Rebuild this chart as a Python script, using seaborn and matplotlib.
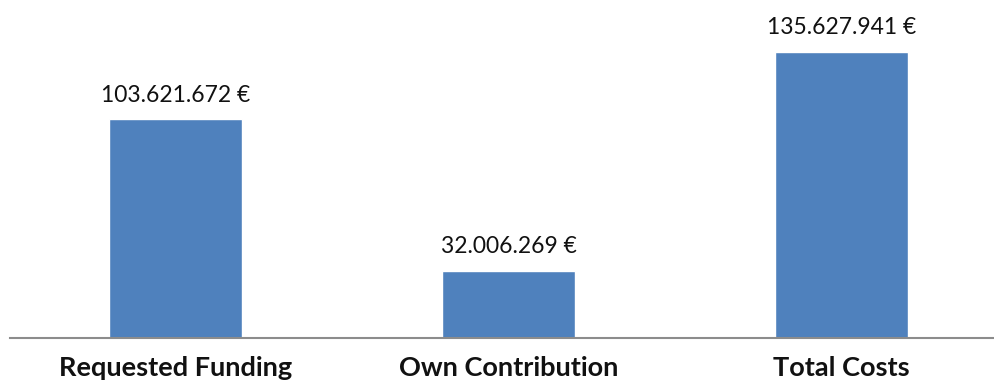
import matplotlib
matplotlib.use("Agg")
import matplotlib.pyplot as plt
import seaborn as sns
import pandas as pd

categories = ["Requested Funding", "Own Contribution", "Total Costs"]
amounts = [103621672, 32006269, 135627941]
value_labels = ["103.621.672 €", "32.006.269 €", "135.627.941 €"]

sns.set_theme(style="white")
plt.rcParams["font.family"] = ["Lato", "DejaVu Sans"]

df = pd.DataFrame({"category": categories, "amount": amounts})

fig = plt.figure(figsize=(9.95, 3.85), dpi=100)
ax = fig.add_axes([10 / 995, 47 / 385, 985 / 995, 338 / 385])

sns.barplot(data=df, x="category", y="amount", color="#4F81BD",
            saturation=1, width=0.4, ax=ax)

ax.set_xlim(-0.497, 2.461)
ax.set_ylim(0, max(amounts) * 338 / 286)

for i, (v, lab) in enumerate(zip(amounts, value_labels)):
    ax.annotate(lab, (i, v), xytext=(0, 10), textcoords="offset points",
                ha="center", va="bottom", fontsize=16.5, color="#111111")

for s in ["top", "right", "left"]:
    ax.spines[s].set_visible(False)
ax.spines["bottom"].set_color("#8c8c8c")
ax.spines["bottom"].set_linewidth(1.5)

ax.set_yticks([])
ax.set_xlabel("")
ax.set_ylabel("")
ax.tick_params(axis="x", length=0, pad=13)
for t in ax.get_xticklabels():
    t.set_fontsize(19.5)
    t.set_fontweight("bold")
    t.set_color("#111111")

fig.savefig("out.png", dpi=100)
